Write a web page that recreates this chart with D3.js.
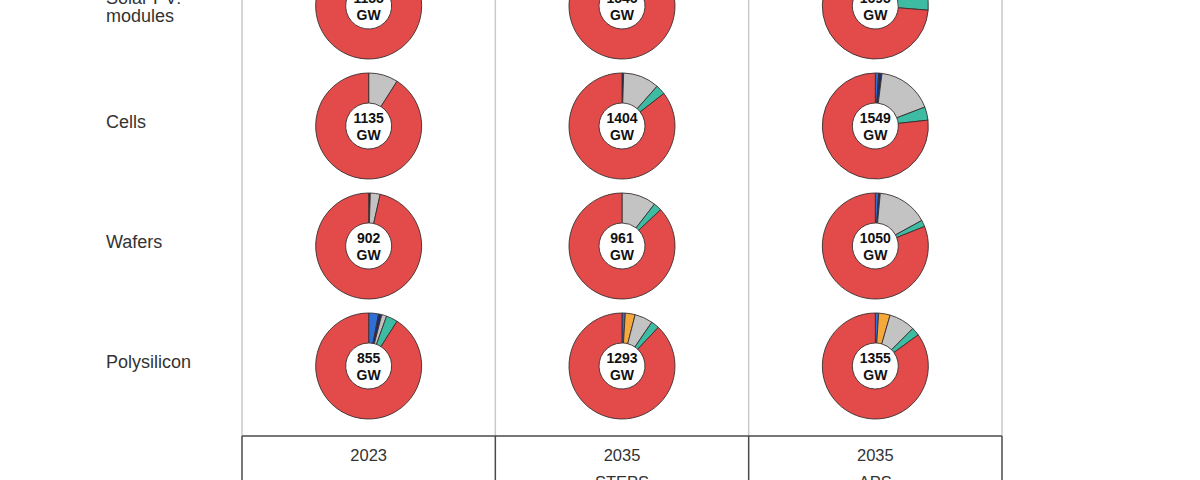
<!DOCTYPE html>
<html>
<head>
<meta charset="utf-8">
<script src="https://cdn.jsdelivr.net/npm/d3@7"></script>
<style>
  html, body { margin: 0; padding: 0; background: #fff; overflow: hidden; }
  svg { display: block; font-family: "Liberation Sans", Arial, sans-serif; }
</style>
</head>
<body>
<div id="wrapper"></div>
<script>
// 1. Data

const stages = ["Solar PV modules", "Cells", "Wafers", "Polysilicon"];
const stageLines = [["Solar PV:", "modules"], ["Cells"], ["Wafers"], ["Polysilicon"]];
const scenarios = ["2023", "2035 STEPS", "2035 APS"];
const yearLabels = ["2023", "2035", "2035"];
const scenarioLabels = ["", "STEPS", "APS"];

// total manufacturing capacity, GW  [stage][scenario]
const capacityGW = [
  [1155, 1546, 1695],
  [1135, 1404, 1549],
  [902, 961, 1050],
  [855, 1293, 1355],
];

// regional shares in %, [stage][scenario], clockwise from 12 o'clock
const regions = ["United States", "European Union", "India", "Rest of world", "Southeast Asia", "China"];
const regionColors = ["#2f6fd6", "#1d2c66", "#f4a93a", "#c3c3c3", "#3dbba3", "#e34a4a"];

const shareUnitedStates = [[0, 0.5, 1], [0, 0, 1], [0, 0, 1], [3, 1, 1]];
const shareEuropeanUnion = [[0, 0, 0], [0, 0.5, 1], [0.5, 0, 0.5], [1, 0, 0]];
const shareIndia = [[0, 0, 0], [0, 0, 0], [0, 0, 0], [0, 3, 3.5]];
const shareRestOfWorld = [[10, 12, 14], [9, 11, 17], [3, 10.5, 15.5], [1.5, 5.5, 8]];
const shareSoutheastAsia = [[2, 3, 11], [0, 3, 4], [0, 2.5, 2], [3.5, 2.5, 2.5]];
const shareChina = [[88, 84.5, 73], [91, 85.5, 76], [96.5, 87, 81], [91, 88, 85]];

const shareTables = [shareUnitedStates, shareEuropeanUnion, shareIndia, shareRestOfWorld, shareSoutheastAsia, shareChina];

// 2. Dimensions

const width = 1200;
const height = 480;

const wrapper = d3.select("#wrapper")
  .append("svg")
    .attr("width", width)
    .attr("height", height);

// 3. Scales

const xScale = d3.scaleBand()
  .domain(scenarios)
  .range([242, 1002]);

const yScale = d3.scaleBand()
  .domain(stages)
  .range([-54, 426]);

const colorScale = d3.scaleOrdinal()
  .domain(regions)
  .range(regionColors);

const outerRadius = 53;
const innerRadius = 23;

const pie = d3.pie()
  .sort(null)
  .value(d => d.value);

const arc = d3.arc()
  .innerRadius(innerRadius)
  .outerRadius(outerRadius);

// 4. Grid

const gridLines = xScale.domain().map(d => xScale(d)).concat([xScale.range()[1]]);

wrapper.append("g")
  .selectAll("line")
  .data(gridLines)
  .join("line")
    .attr("x1", d => d)
    .attr("x2", d => d)
    .attr("y1", -5)
    .attr("y2", 436)
    .attr("stroke", "#c9c9c9")
    .attr("stroke-width", 1.5);

const footer = wrapper.append("g");
footer.append("line")
  .attr("x1", xScale.range()[0])
  .attr("x2", xScale.range()[1])
  .attr("y1", 436)
  .attr("y2", 436)
  .attr("stroke", "#4a4a4a")
  .attr("stroke-width", 1.5);

footer.selectAll(".sep")
  .data(gridLines)
  .join("line")
    .attr("class", "sep")
    .attr("x1", d => d)
    .attr("x2", d => d)
    .attr("y1", 436)
    .attr("y2", 490)
    .attr("stroke", "#4a4a4a")
    .attr("stroke-width", 1.5);

footer.selectAll(".year")
  .data(scenarios)
  .join("text")
    .attr("class", "year")
    .attr("x", d => xScale(d) + xScale.bandwidth() / 2)
    .attr("y", 461)
    .attr("text-anchor", "middle")
    .attr("font-size", 16.5)
    .attr("fill", "#333")
    .text((d, i) => yearLabels[i]);

footer.selectAll(".scen")
  .data(scenarios)
  .join("text")
    .attr("class", "scen")
    .attr("x", d => xScale(d) + xScale.bandwidth() / 2)
    .attr("y", 488)
    .attr("text-anchor", "middle")
    .attr("font-size", 16.5)
    .attr("fill", "#333")
    .text((d, i) => scenarioLabels[i]);

// 5. Row labels

const rowLabels = wrapper.append("g")
  .selectAll("text")
  .data(stages)
  .join("text")
    .attr("x", 106)
    .attr("y", (d, i) => yScale(d) + yScale.bandwidth() / 2 + (stageLines[i].length > 1 ? 2 : -3))
    .attr("font-size", 18)
    .attr("fill", "#333")
    .attr("dominant-baseline", "middle");

rowLabels.selectAll("tspan")
  .data((d, i) => stageLines[i].map((t, j, arr) => ({ t, dy: j === 0 ? -(arr.length - 1) * 9 : 18 })))
  .join("tspan")
    .attr("x", 106)
    .attr("dy", d => d.dy)
    .text(d => d.t);

// 6. Donuts

const cells = [];
stages.forEach((stage, si) => {
  scenarios.forEach((scen, ci) => {
    cells.push({
      stage,
      scen,
      total: capacityGW[si][ci],
      shares: regions.map((r, ri) => ({ region: r, value: shareTables[ri][si][ci] })),
    });
  });
});

const donuts = wrapper.append("g")
  .selectAll(".donut")
  .data(cells)
  .join("g")
    .attr("class", "donut")
    .attr("transform", d =>
      `translate(${xScale(d.scen) + xScale.bandwidth() / 2}, ${yScale(d.stage) + yScale.bandwidth() / 2})`);

donuts.selectAll("path")
  .data(d => pie(d.shares.filter(s => s.value > 0)))
  .join("path")
    .attr("d", arc)
    .attr("fill", d => colorScale(d.data.region))
    .attr("stroke", "#3b2f2f")
    .attr("stroke-width", 0.9);

donuts.append("text")
  .attr("text-anchor", "middle")
  .attr("y", -3)
  .attr("font-size", 14)
  .attr("font-weight", "bold")
  .attr("fill", "#111")
  .text(d => d.total);

donuts.append("text")
  .attr("text-anchor", "middle")
  .attr("y", 14)
  .attr("font-size", 14)
  .attr("font-weight", "bold")
  .attr("fill", "#111")
  .text("GW");
</script>
</body>
</html>
